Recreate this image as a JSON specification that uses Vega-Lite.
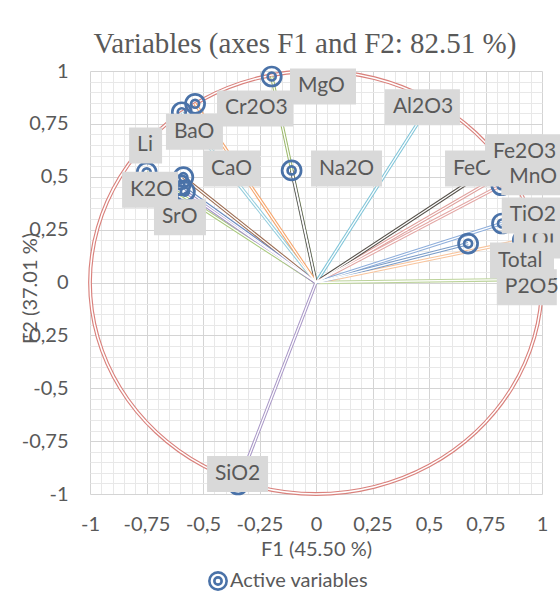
{
  "$schema": "https://vega.github.io/schema/vega-lite/v6.json",
  "width": 452,
  "height": 423,
  "autosize": {"type": "none"},
  "padding": {"left": 90, "top": 71, "right": 18, "bottom": 116},
  "background": "white",
  "config": {"view": {"stroke": null}, "font": "Lato"},
  "title": {
    "text": "Variables (axes F1 and F2: 82.51 %)",
    "font": "Liberation Serif",
    "fontSize": 29,
    "fontWeight": "normal",
    "color": "#595959",
    "frame": "group",
    "anchor": "middle",
    "baseline": "bottom",
    "offset": 14,
    "dx": -11,
    "dy": 41
  },
  "datasets": {
    "circle": [
      {"i": 0, "cx": 1, "cy": 0},
      {"i": 1, "cx": 0.9659, "cy": 0.2588},
      {"i": 2, "cx": 0.866, "cy": 0.5},
      {"i": 3, "cx": 0.7071, "cy": 0.7071},
      {"i": 4, "cx": 0.5, "cy": 0.866},
      {"i": 5, "cx": 0.2588, "cy": 0.9659},
      {"i": 6, "cx": 0, "cy": 1},
      {"i": 7, "cx": -0.2588, "cy": 0.9659},
      {"i": 8, "cx": -0.5, "cy": 0.866},
      {"i": 9, "cx": -0.7071, "cy": 0.7071},
      {"i": 10, "cx": -0.866, "cy": 0.5},
      {"i": 11, "cx": -0.9659, "cy": 0.2588},
      {"i": 12, "cx": -1, "cy": 0},
      {"i": 13, "cx": -0.9659, "cy": -0.2588},
      {"i": 14, "cx": -0.866, "cy": -0.5},
      {"i": 15, "cx": -0.7071, "cy": -0.7071},
      {"i": 16, "cx": -0.5, "cy": -0.866},
      {"i": 17, "cx": -0.2588, "cy": -0.9659},
      {"i": 18, "cx": 0, "cy": -1},
      {"i": 19, "cx": 0.2588, "cy": -0.9659},
      {"i": 20, "cx": 0.5, "cy": -0.866},
      {"i": 21, "cx": 0.7071, "cy": -0.7071},
      {"i": 22, "cx": 0.866, "cy": -0.5},
      {"i": 23, "cx": 0.9659, "cy": -0.2588}
    ],
    "vars": [
      {"variable": "SiO2", "F1": -0.345, "F2": -0.955, "lx": -0.482, "ly": -0.905},
      {"variable": "Al2O3", "F1": 0.49, "F2": 0.82, "lx": 0.305, "ly": 0.829},
      {"variable": "Fe2O3", "F1": 0.84, "F2": 0.52, "lx": 0.748, "ly": 0.616},
      {"variable": "FeO", "F1": 0.77, "F2": 0.54, "lx": 0.571, "ly": 0.539},
      {"variable": "MnO", "F1": 0.82, "F2": 0.46, "lx": 0.82, "ly": 0.498},
      {"variable": "MgO", "F1": -0.196, "F2": 0.974, "lx": -0.115, "ly": 0.927},
      {"variable": "CaO", "F1": -0.587, "F2": 0.498, "lx": -0.5, "ly": 0.539},
      {"variable": "Na2O", "F1": -0.108, "F2": 0.53, "lx": -0.022, "ly": 0.539},
      {"variable": "K2O", "F1": -0.6, "F2": 0.46, "lx": -0.858, "ly": 0.438},
      {"variable": "TiO2", "F1": 0.823, "F2": 0.279, "lx": 0.822, "ly": 0.317},
      {"variable": "P2O5", "F1": 0.97, "F2": 0.015, "lx": 0.8, "ly": -0.022},
      {"variable": "LOI", "F1": 0.915, "F2": 0.2, "lx": 0.875, "ly": 0.199},
      {"variable": "Total", "F1": 0.673, "F2": 0.184, "lx": 0.77, "ly": 0.104},
      {"variable": "BaO", "F1": -0.594, "F2": 0.805, "lx": -0.664, "ly": 0.713},
      {"variable": "Cr2O3", "F1": -0.535, "F2": 0.845, "lx": -0.438, "ly": 0.823},
      {"variable": "Li", "F1": -0.749, "F2": 0.521, "lx": -0.827, "ly": 0.648},
      {"variable": "SrO", "F1": -0.58, "F2": 0.43, "lx": -0.717, "ly": 0.309}
    ]
  },
  "layer": [
    {
      "data": {"name": "circle"},
      "mark": {"type": "line", "interpolate": "cardinal-closed", "color": "#d9817c", "strokeWidth": 3.8},
      "encoding": {
        "x": {
          "field": "cx", "type": "quantitative",
          "scale": {"domain": [-1, 1], "nice": false, "zero": false},
          "axis": {
            "orient": "bottom",
            "values": [-0.95, -0.9, -0.85, -0.8, -0.7, -0.65, -0.6, -0.55, -0.45, -0.4, -0.35, -0.3, -0.2, -0.15, -0.1, -0.05, 0.05, 0.1, 0.15, 0.2, 0.3, 0.35, 0.4, 0.45, 0.55, 0.6, 0.65, 0.7, 0.8, 0.85, 0.9, 0.95],
            "grid": true, "gridColor": "#e8e8e8", "gridWidth": 1,
            "labels": false, "ticks": false, "domain": false, "title": null
          }
        },
        "y": {
          "field": "cy", "type": "quantitative",
          "scale": {"domain": [-1, 1], "nice": false, "zero": false},
          "axis": {
            "orient": "left",
            "values": [-0.95, -0.9, -0.85, -0.8, -0.7, -0.65, -0.6, -0.55, -0.45, -0.4, -0.35, -0.3, -0.2, -0.15, -0.1, -0.05, 0.05, 0.1, 0.15, 0.2, 0.3, 0.35, 0.4, 0.45, 0.55, 0.6, 0.65, 0.7, 0.8, 0.85, 0.9, 0.95],
            "grid": true, "gridColor": "#e8e8e8", "gridWidth": 1,
            "labels": false, "ticks": false, "domain": false, "title": null
          }
        },
        "order": {"field": "i", "type": "quantitative"}
      }
    },
    {
      "data": {"name": "circle"},
      "mark": {"type": "line", "interpolate": "cardinal-closed", "color": "white", "strokeWidth": 1.5},
      "encoding": {
        "x": {
          "field": "cx", "type": "quantitative",
          "axis": {
            "orient": "bottom",
            "values": [-1, -0.75, -0.5, -0.25, 0, 0.25, 0.5, 0.75, 1],
            "grid": true, "gridColor": "#d4d4d4", "gridWidth": 1,
            "ticks": false, "domain": false,
            "labelOverlap": false, "labelFlush": false,
            "labelExpr": "replace(toString(datum.value), '.', ',')",
            "labelFont": "Lato", "labelFontSize": 20, "labelColor": "#595959", "labelPadding": 20,
            "title": "F1 (45.50 %)",
            "titleFont": "Lato", "titleFontSize": 20, "titleFontWeight": "normal", "titleColor": "#595959",
            "titlePadding": 5
          }
        },
        "y": {
          "field": "cy", "type": "quantitative",
          "axis": {
            "orient": "left",
            "values": [-1, -0.75, -0.5, -0.25, 0, 0.25, 0.5, 0.75, 1],
            "grid": true, "gridColor": "#d4d4d4", "gridWidth": 1,
            "ticks": false, "domain": false,
            "labelOverlap": false, "labelFlush": false,
            "labelExpr": "replace(toString(datum.value), '.', ',')",
            "labelFont": "Lato", "labelFontSize": 20, "labelColor": "#595959", "labelPadding": 22,
            "title": "F2 (37.01 %)",
            "titleFont": "Lato", "titleFontSize": 20, "titleFontWeight": "normal", "titleColor": "#595959",
            "titleX": -60, "titleY": 217, "titleBaseline": "middle", "titleAngle": -90
          }
        },
        "order": {"field": "i", "type": "quantitative"}
      }
    },
    {
      "data": {"name": "vars"},
      "mark": {"type": "rule", "strokeWidth": 3.4},
      "encoding": {
        "x": {"field": "F1", "type": "quantitative", "axis": null},
        "y": {"field": "F2", "type": "quantitative", "axis": null},
        "x2": {"datum": 0},
        "y2": {"datum": 0},
        "color": {
          "field": "variable", "type": "nominal", "legend": null,
          "scale": {
            "domain": ["SiO2", "Al2O3", "Fe2O3", "FeO", "MnO", "MgO", "CaO", "Na2O", "K2O", "TiO2", "P2O5", "LOI", "Total", "BaO", "Cr2O3", "Li", "SrO"],
            "range": ["#a896c6", "#7ec4d8", "#e0a09d", "#555049", "#e3a6a4", "#9bb86a", "#9a6a4f", "#666666", "#6b8cc0", "#8eaedb", "#bcd39a", "#f8c49c", "#7a9cc8", "#92cddc", "#f5a46a", "#a9c97c", "#a48fc8"]
          }
        }
      }
    },
    {
      "data": {"name": "vars"},
      "mark": {"type": "rule", "strokeWidth": 1.3, "color": "white"},
      "encoding": {
        "x": {"field": "F1", "type": "quantitative", "axis": null},
        "y": {"field": "F2", "type": "quantitative", "axis": null},
        "x2": {"datum": 0},
        "y2": {"datum": 0}
      }
    },
    {
      "data": {"name": "vars"},
      "mark": {
        "type": "point",
        "filled": false,
        "size": 361,
        "strokeWidth": 2.7,
        "opacity": 1,
        "shape": "M -1 0 A 1 1 0 1 1 1 0 A 1 1 0 1 1 -1 0 M -0.42 0 A 0.42 0.42 0 1 1 0.42 0 A 0.42 0.42 0 1 1 -0.42 0"
      },
      "encoding": {
        "x": {"field": "F1", "type": "quantitative", "axis": null},
        "y": {"field": "F2", "type": "quantitative", "axis": null},
        "color": {
          "datum": "Active variables", "type": "nominal",
          "scale": {"range": ["#4a72a8"]},
          "legend": {
            "orient": "none",
            "legendX": 118,
            "legendY": 500,
            "title": null,
            "labelFont": "Lato",
            "labelFontSize": 20,
            "labelColor": "#595959",
            "labelOffset": 2,
            "symbolType": "M -1 0 A 1 1 0 1 1 1 0 A 1 1 0 1 1 -1 0 M -0.42 0 A 0.42 0.42 0 1 1 0.42 0 A 0.42 0.42 0 1 1 -0.42 0",
            "symbolSize": 300,
            "symbolStrokeWidth": 2.6,
            "symbolFillColor": "transparent",
            "symbolOpacity": 1
          }
        }
      }
    },
    {
      "data": {"name": "vars"},
      "transform": [{"filter": "indexof(['Fe2O3','TiO2','Total','BaO','SrO','MnO'], datum.variable) < 0"}],
      "layer": [
        {
          "mark": {"type": "rect", "color": "#d9d9d9", "yOffset": -18, "y2Offset": 18,
            "x2Offset": {"expr": "{'MgO':66,'Cr2O3':76,'BaO':57,'Li':33,'CaO':57,'K2O':56,'SrO':52,'Na2O':71,'Al2O3':75,'FeO':62,'Fe2O3':76,'MnO':60,'TiO2':60,'LOI':50,'Total':64,'P2O5':60,'SiO2':61}[datum.variable]"}},
          "encoding": {
            "x": {"field": "lx", "type": "quantitative", "axis": null},
            "x2": {"field": "lx"},
            "y": {"field": "ly", "type": "quantitative", "axis": null},
            "y2": {"field": "ly"}
          }
        },
        {
          "mark": {"type": "text", "align": "left", "baseline": "middle", "dx": 8, "font": "Lato", "fontSize": 21, "color": "#595959"},
          "encoding": {
            "x": {"field": "lx", "type": "quantitative", "axis": null},
            "y": {"field": "ly", "type": "quantitative", "axis": null},
            "text": {"field": "variable"}
          }
        }
      ]
    },
    {
      "data": {"name": "vars"},
      "transform": [{"filter": "indexof(['Fe2O3','TiO2','Total','BaO','SrO'], datum.variable) >= 0"}],
      "layer": [
        {
          "mark": {"type": "rect", "color": "#d9d9d9", "yOffset": -18, "y2Offset": 18,
            "x2Offset": {"expr": "{'MgO':66,'Cr2O3':76,'BaO':57,'Li':33,'CaO':57,'K2O':56,'SrO':52,'Na2O':71,'Al2O3':75,'FeO':62,'Fe2O3':76,'MnO':60,'TiO2':60,'LOI':50,'Total':64,'P2O5':60,'SiO2':61}[datum.variable]"}},
          "encoding": {
            "x": {"field": "lx", "type": "quantitative", "axis": null},
            "x2": {"field": "lx"},
            "y": {"field": "ly", "type": "quantitative", "axis": null},
            "y2": {"field": "ly"}
          }
        },
        {
          "mark": {"type": "text", "align": "left", "baseline": "middle", "dx": 8, "font": "Lato", "fontSize": 21, "color": "#595959"},
          "encoding": {
            "x": {"field": "lx", "type": "quantitative", "axis": null},
            "y": {"field": "ly", "type": "quantitative", "axis": null},
            "text": {"field": "variable"}
          }
        }
      ]
    },
    {
      "data": {"name": "vars"},
      "transform": [{"filter": "datum.variable == 'MnO'"}],
      "layer": [
        {
          "mark": {"type": "rect", "color": "#d9d9d9", "yOffset": -18, "y2Offset": 18,
            "x2Offset": {"expr": "{'MgO':66,'Cr2O3':76,'BaO':57,'Li':33,'CaO':57,'K2O':56,'SrO':52,'Na2O':71,'Al2O3':75,'FeO':62,'Fe2O3':76,'MnO':60,'TiO2':60,'LOI':50,'Total':64,'P2O5':60,'SiO2':61}[datum.variable]"}},
          "encoding": {
            "x": {"field": "lx", "type": "quantitative", "axis": null},
            "x2": {"field": "lx"},
            "y": {"field": "ly", "type": "quantitative", "axis": null},
            "y2": {"field": "ly"}
          }
        },
        {
          "mark": {"type": "text", "align": "left", "baseline": "middle", "dx": 8, "font": "Lato", "fontSize": 21, "color": "#595959"},
          "encoding": {
            "x": {"field": "lx", "type": "quantitative", "axis": null},
            "y": {"field": "ly", "type": "quantitative", "axis": null},
            "text": {"field": "variable"}
          }
        }
      ]
    }
  ],
  "resolve": {"scale": {"color": "independent"}, "axis": {"x": "independent", "y": "independent"}}
}
